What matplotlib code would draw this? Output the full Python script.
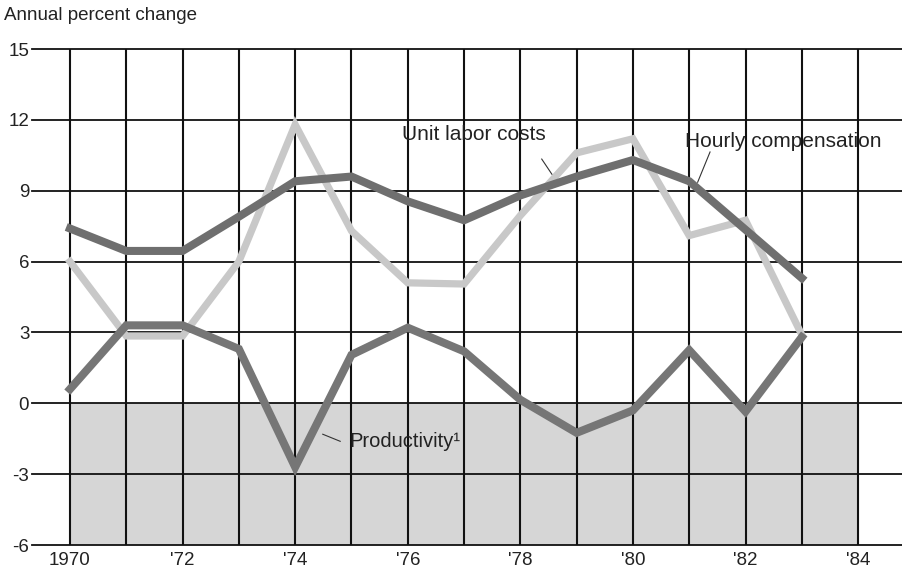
import matplotlib
matplotlib.use("Agg")
import matplotlib.pyplot as plt

years = list(range(1970, 1984))
hourly_compensation = [7.4, 6.45, 6.45, 7.9, 9.4, 9.6, 8.55, 7.75, 8.8, 9.6, 10.3, 9.4, 7.35, 5.3]
unit_labor_costs = [6.0, 2.85, 2.85, 6.0, 11.8, 7.3, 5.1, 5.05, 7.95, 10.6, 11.2, 7.1, 7.75, 2.9]
productivity = [0.6, 3.3, 3.3, 2.3, -2.7, 2.05, 3.2, 2.2, 0.15, -1.25, -0.3, 2.25, -0.35, 2.8]

grid_years = list(range(1970, 1985))
y_ticks = [-6, -3, 0, 3, 6, 9, 12, 15]
x_tick_years = [1970, 1972, 1974, 1976, 1978, 1980, 1982, 1984]
x_tick_labels = ["1970", "'72", "'74", "'76", "'78", "'80", "'82", "'84"]

plt.rcParams['font.family'] = ['Liberation Sans', 'DejaVu Sans']

fig = plt.figure(figsize=(9.02, 5.76), dpi=100)
ax = fig.add_axes([32/902, 31/576, 870/902, 496/576])
ax.set_xlim(1969.325, 1984.78)
ax.set_ylim(-6, 15)
for s in ax.spines.values():
    s.set_visible(False)

# shaded negative region
ax.fill_between([grid_years[0], grid_years[-1]], -6, 0, color='#d6d6d6', lw=0, zorder=0)

# grid
for yv in y_ticks:
    ax.axhline(yv, color='#111111', lw=1.3, zorder=1, clip_on=False)
ax.vlines(grid_years, -6, 15, color='#111111', lw=1.5, zorder=1, clip_on=False)

# series
ax.plot(years, unit_labor_costs, color='#c8c8c8', lw=5.2, solid_joinstyle='miter', zorder=3)
ax.plot(years, hourly_compensation, color='#6f6f6f', lw=5.8, solid_joinstyle='miter', zorder=4)
ax.plot(years, productivity, color='#767676', lw=5.8, solid_joinstyle='miter', zorder=4)

ax.set_yticks(y_ticks)
ax.set_yticklabels([str(v) for v in y_ticks], fontsize=13.5, color='#222222')
ax.set_xticks(x_tick_years)
ax.set_xticklabels(x_tick_labels, fontsize=13.5, color='#222222')
ax.tick_params(axis='y', length=0, pad=2)
ax.tick_params(axis='x', length=0, pad=5)

# labels
ax.text(1975.9, 11.4, "Unit labor costs", fontsize=15, color='#222222', va='center', ha='left', zorder=6)
ax.plot([1978.38, 1978.56], [10.34, 9.70], color='#333333', lw=0.8, zorder=6)
ax.text(1980.92, 11.1, "Hourly compensation", fontsize=15, color='#222222', va='center', ha='left', zorder=6)
ax.plot([1981.37, 1981.15], [10.64, 9.36], color='#333333', lw=0.8, zorder=6)
ax.text(1974.97, -1.61, "Productivity\u00b9", fontsize=14.5, color='#222222', va='center', ha='left', zorder=6)
ax.plot([1974.49, 1974.8], [-1.31, -1.61], color='#333333', lw=0.8, zorder=6)

fig.text(4/902, 1 - 16/576, "Annual percent change", fontsize=13.5, color='#222222', va='center', ha='left')

fig.savefig("out.png", dpi=100)
